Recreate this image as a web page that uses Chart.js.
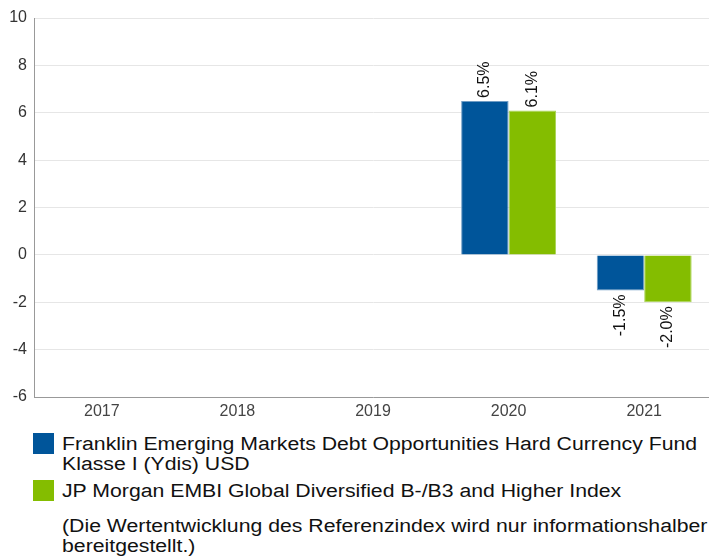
<!DOCTYPE html>
<html>
<head>
<meta charset="utf-8">
<script src="https://cdn.jsdelivr.net/npm/chart.js@4/dist/chart.umd.min.js"></script>
<style>
  html, body { margin: 0; padding: 0; background: #fff; overflow: hidden; }
  #wrap { position: relative; width: 709px; height: 558px; overflow: hidden; }
  #c { position: absolute; left: 0; top: 0; }
  .leg { position: absolute; left: 0; top: 0; font-family: "Liberation Sans", Arial, sans-serif; font-size: 18px; line-height: 20px; color: #111; }
  .sw { position: absolute; left: 33px; width: 21px; height: 21px; }
  .tx { position: absolute; left: 62px; white-space: nowrap; transform: scaleX(1.18); transform-origin: 0 0; }
</style>
</head>
<body>
<div id="wrap">
  <canvas id="c" width="712" height="425"></canvas>
  <div class="leg">
    <div class="sw" style="top:433px;background:#00559a"></div>
    <div class="tx" id="l1" style="top:434px"></div>
    <div class="sw" style="top:480px;background:#84bd00"></div>
    <div class="tx" id="l2" style="top:481px"></div>
    <div class="tx" id="note" style="top:516px"></div>
  </div>
</div>
<script>
const categories = ["2017", "2018", "2019", "2020", "2021"];
const fundValues = [null, null, null, 6.5, -1.5];
const indexValues = [null, null, null, 6.1, -2.0];
const fundName = "Franklin Emerging Markets Debt Opportunities Hard Currency Fund\nKlasse I (Ydis) USD";
const indexName = "JP Morgan EMBI Global Diversified B-/B3 and Higher Index";
const noteText = "(Die Wertentwicklung des Referenzindex wird nur informationshalber\nbereitgestellt.)";
const yTicks = [10, 8, 6, 4, 2, 0, -2, -4, -6];

document.getElementById('l1').innerHTML = fundName.replace('\n', '<br>');
document.getElementById('l2').textContent = indexName;
document.getElementById('note').innerHTML = noteText.replace('\n', '<br>');

const labelPlugin = {
  id: 'barLabels',
  afterDatasetsDraw(chart) {
    const ctx = chart.ctx;
    ctx.save();
    ctx.font = '16px "Liberation Sans", Arial, sans-serif';
    ctx.fillStyle = '#111';
    chart.data.datasets.forEach((ds, i) => {
      const meta = chart.getDatasetMeta(i);
      meta.data.forEach((el, j) => {
        const v = ds.data[j];
        if (v === null || v === undefined) return;
        const txt = v.toFixed(1) + '%';
        ctx.save();
        ctx.textBaseline = 'middle';
        if (v >= 0) {
          ctx.translate(el.x, el.y - 3);
          ctx.rotate(-Math.PI / 2);
          ctx.textAlign = 'left';
        } else {
          ctx.translate(el.x, el.y + 4);
          ctx.rotate(-Math.PI / 2);
          ctx.textAlign = 'right';
        }
        ctx.fillText(txt, 0, 0);
        ctx.restore();
      });
    });
    ctx.restore();
  }
};

new Chart(document.getElementById('c'), {
  type: 'bar',
  data: {
    labels: categories,
    datasets: [
      { label: fundName, data: fundValues, backgroundColor: '#00559a', borderColor: '#6f9cc4', borderWidth: 1 },
      { label: indexName, data: indexValues, backgroundColor: '#84bd00', borderColor: '#a9d356', borderWidth: 1 }
    ]
  },
  options: {
    responsive: false,
    animation: false,
    layout: { padding: { top: 18, right: 0, bottom: 0, left: 0 } },
    plugins: { legend: { display: false }, tooltip: { enabled: false } },
    datasets: { bar: { categoryPercentage: 0.7, barPercentage: 1.0 } },
    scales: {
      x: {
        grid: { display: false, drawTicks: false },
        border: { color: '#999', width: 1 },
        ticks: { color: '#444', font: { family: '"Liberation Sans", Arial, sans-serif', size: 16 }, padding: 5 },
        afterFit(s) { s.height = 28; }
      },
      y: {
        min: -6, max: 10,
        afterBuildTicks(s) { s.ticks = yTicks.slice().reverse().map(v => ({ value: v })); },
        grid: { color: '#e6e6e6', drawTicks: false },
        border: { color: '#999', width: 1 },
        ticks: { color: '#333', font: { family: '"Liberation Sans", Arial, sans-serif', size: 16 }, padding: 7 },
        afterFit(s) { s.width = 34; }
      }
    }
  },
  plugins: [labelPlugin]
});
</script>
</body>
</html>
